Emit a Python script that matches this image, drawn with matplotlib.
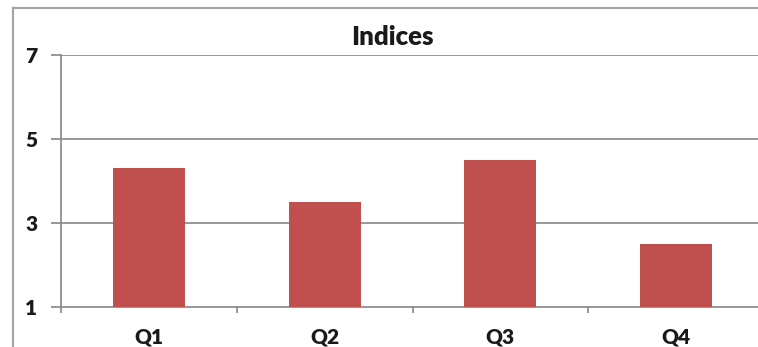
import matplotlib
matplotlib.use("Agg")
import matplotlib.pyplot as plt
from matplotlib.lines import Line2D

# Quarterly index values
categories = ["Q1", "Q2", "Q3", "Q4"]
values = [4.3, 3.5, 4.5, 2.5]
y_ticks = [1, 3, 5, 7]
title = "Indices"

W, H = 758, 347
fig = plt.figure(figsize=(W / 100, H / 100), dpi=100)
fig.patch.set_facecolor("white")

# Outer chart frame (left and top edges visible)
frame_color = "#a6a6a6"
fig.add_artist(Line2D([13 / W, 13 / W], [0, 1 - 8 / H], transform=fig.transFigure,
                      color=frame_color, lw=1.6))
fig.add_artist(Line2D([13 / W, 1], [1 - 8 / H, 1 - 8 / H], transform=fig.transFigure,
                      color=frame_color, lw=1.6))

# Plot area
left_px, right_px, top_px, bottom_px = 61, 764, 55, 307
ax = fig.add_axes([left_px / W, 1 - bottom_px / H,
                   (right_px - left_px) / W, (bottom_px - top_px) / H])
ax.set_facecolor("none")

x = [i + 0.5 for i in range(len(categories))]
ax.bar(x, [v - y_ticks[0] for v in values], bottom=y_ticks[0], width=0.41,
       color="#C0504D", zorder=3)

ax.set_xlim(0, len(categories))
ax.set_ylim(y_ticks[0], y_ticks[-1])

grid_color = "#868686"
for yv in y_ticks[1:]:
    ax.axhline(yv, color=grid_color, lw=1.2, zorder=1)

for side in ["top", "right"]:
    ax.spines[side].set_visible(False)
for side in ["left", "bottom"]:
    ax.spines[side].set_color(grid_color)
    ax.spines[side].set_linewidth(1.2)

ax.set_yticks(y_ticks)
ax.set_yticklabels([str(t) for t in y_ticks])
ax.set_xticks(range(len(categories) + 1))
ax.set_xticklabels([])
ax.set_xticks(x, minor=True)
ax.set_xticklabels(categories, minor=True)

ax.tick_params(axis="y", which="major", length=7, width=1.2, color=grid_color,
               pad=10, labelsize=15, labelcolor="#1a1a1a")
ax.tick_params(axis="x", which="major", length=4.5, width=1.2, color=grid_color)
ax.tick_params(axis="x", which="minor", length=0, pad=15, labelsize=15,
               labelcolor="#1a1a1a")

for lab in ax.get_yticklabels() + ax.get_xticklabels(minor=True):
    lab.set_fontfamily("Lato")
    lab.set_fontweight("heavy")

fig.text(392 / W, 1 - 37 / H, title, ha="center", va="center",
         fontsize=18.5, fontweight="heavy", family="Lato", color="#1a1a1a")

fig.savefig("out.png", dpi=100)
